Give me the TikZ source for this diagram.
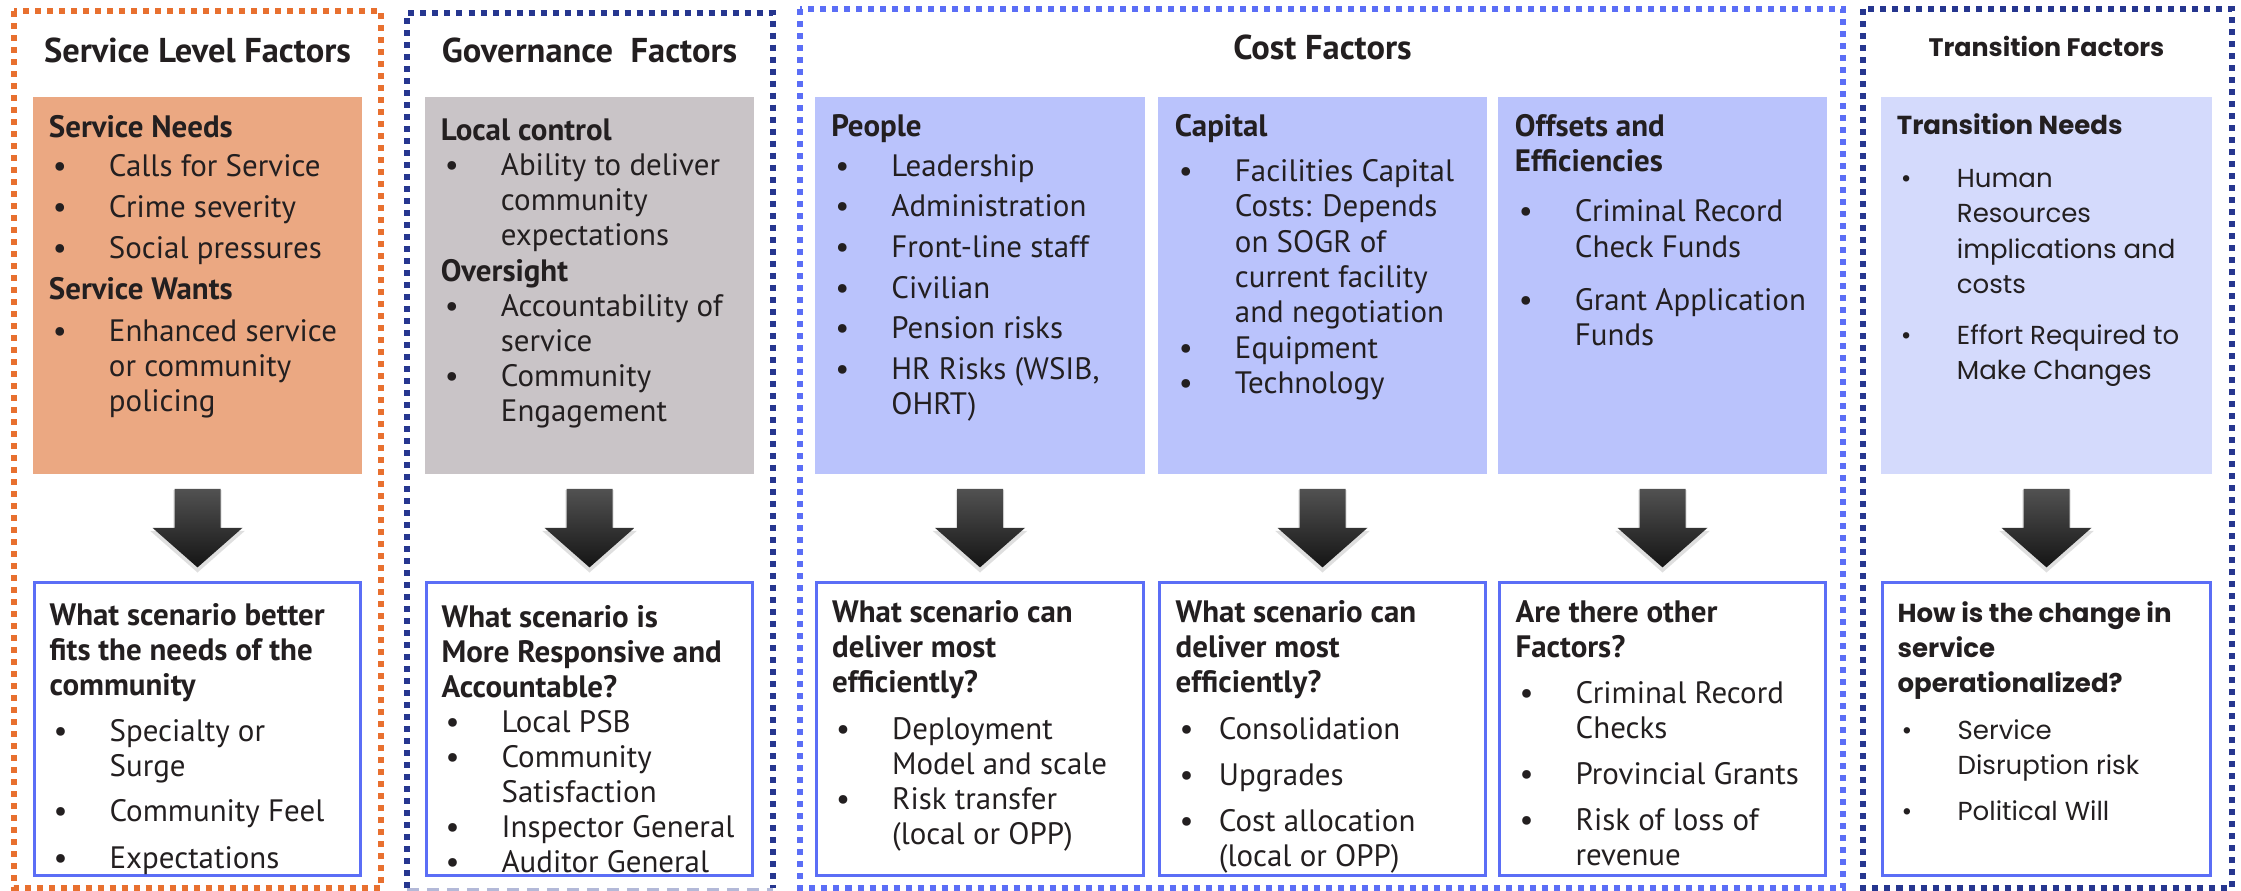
\documentclass[tikz,border=0pt]{standalone}
\usepackage{fontspec}
\setmainfont{PT Sans}
\newfontfamily\trnfont{Poppins}
\usetikzlibrary{calc,positioning,shadows}

\definecolor{ink}{HTML}{231F20}
\definecolor{svcfill}{HTML}{EBA882}
\definecolor{govfill}{HTML}{C9C4C7}
\definecolor{costfill}{HTML}{BAC3FC}
\definecolor{trnfill}{HTML}{D4DAFC}
\definecolor{boxline}{HTML}{5B6EF6}
\definecolor{orangeline}{HTML}{E8702F}
\definecolor{navyline}{HTML}{26368F}

% bullet lines
\newcommand{\itm}[1][0.56cm]{\hspace*{0.04cm}\makebox[#1][l]{\textbullet}}
\newcommand{\cnt}[1][0.6cm]{\hspace*{#1}}
\newcommand{\fst}{\rule{0pt}{0.25cm}}
\newcommand{\bodyfont}{\fontsize{8.8pt}{9.96pt}\selectfont}
\newcommand{\trnbody}{\trnfont\fontsize{7.4pt}{9.96pt}\selectfont}

\tikzset{
  frame/.style={line width=0.06cm, dash pattern=on 0.06cm off 0.06cm},
  topbox/.style={rectangle, inner sep=0, minimum width=3.29cm, minimum height=3.77cm},
  botbox/.style={rectangle, draw=boxline, line width=0.03cm, fill=white, inner sep=0,
    minimum width=3.26cm, minimum height=2.92cm},
  txt/.style={anchor=north west, inner sep=0, align=left, text=ink, font=\bodyfont},
  ttl/.style={anchor=base, inner sep=0, text=ink, font=\fontsize{9.8pt}{11pt}\selectfont\bfseries},
  arrowshade/.style={top color=black!68, bottom color=black!92,
    drop shadow={shadow xshift=0cm, shadow yshift=-0.03cm, shadow scale=1.05, opacity=0.25}},
}

\begin{document}
\begin{tikzpicture}[x=0.01cm, y=-0.01cm]
  \useasboundingbox[fill=white] (0,0) rectangle (2241,890);

  % outer frames
  \draw[frame, orangeline] (14,11) rectangle (381,888);
  \draw[frame, navyline] (407,888) -- (407,13) -- (773,13) -- (773,888);
  \draw[navyline!35, line width=0.03cm, dash pattern=on 0.12cm off 0.08cm] (407,889) -- (773,889);
  \draw[frame, boxline] (800,9) rectangle (1843,888);
  \draw[frame, navyline] (1863,9) rectangle (2232,888);

  % factor boxes
  \node[topbox, fill=svcfill] (svcTop) at (197.5,285.5) {};
  \node[topbox, fill=govfill] (govTop) at (589.5,285.5) {};
  \node[topbox, fill=costfill] (pplTop) at (980,285.5) {};
  \node[topbox, fill=costfill] (capTop) at (1322.5,285.5) {};
  \node[topbox, fill=costfill] (offTop) at (1662.5,285.5) {};
  \node[topbox, fill=trnfill, minimum width=3.31cm] (trnTop) at (2046.5,285.5) {};

  % question boxes
  \foreach \col in {svc,gov,ppl,cap,off}
    \node[botbox, below=1.065cm of \col Top] (\col Bot) {};
  \node[botbox, minimum width=3.28cm, below=1.065cm of trnTop] (trnBot) {};

  % arrows
  \foreach \col in {svc,gov,ppl,cap,off,trn}
    \path[arrowshade] ($(\col Top.south)+(-23,14)$) -- ++(46,0) -- ++(0,39) -- ++(22,0)
      -- ($(\col Bot.north)+(0,-14)$) -- ($(\col Top.south)+(-45,53)$) -- ++(22,0) -- cycle;

  % titles
  \node[ttl] (svcTtl) at ($(svcTop.north)+(0,-34)$) {Service Level Factors};
  \node[ttl] (govTtl) at ($(govTop.north)+(0,-34)$) {Governance\ \ Factors};
  \node[ttl] (costTtl) at ($(capTop.north)+(0,-37)$) {Cost Factors};
  \node[ttl, font=\trnfont\fontsize{7.2pt}{9pt}\selectfont\bfseries] (trnTtl)
    at ($(trnTop.north)+(0,-40)$) {Transition Factors};

  % factor texts
  \node[txt] (svcTopTxt) at ($(svcTop.north west)+(16,16)$) {\fst\textbf{Service Needs}\\[0.04cm]
    \itm Calls for Service\\[0.06cm]
    \itm Crime severity\\[0.05cm]
    \itm Social pressures\\[0.06cm]
    \textbf{Service Wants}\\[0.07cm]
    \itm Enhanced service\\
    \cnt or community\\
    \cnt policing};
  \node[txt] (govTopTxt) at ($(govTop.north west)+(16,19)$) {\fst\textbf{Local control}\\
    \itm Ability to deliver\\
    \cnt community\\
    \cnt expectations\\
    \textbf{Oversight}\\
    \itm Accountability of\\
    \cnt service\\
    \itm Community\\
    \cnt Engagement};
  \node[txt] (pplTopTxt) at ($(pplTop.north west)+(16,15)$) {\fst\textbf{People}\\[0.05cm]
    \itm Leadership\\[0.05cm]
    \itm Administration\\[0.05cm]
    \itm Front-line staff\\[0.06cm]
    \itm Civilian\\[0.05cm]
    \itm Pension risks\\[0.06cm]
    \itm HR Risks (WSIB,\\
    \cnt OHRT)};
  \node[txt] (capTopTxt) at ($(capTop.north west)+(17,15)$) {\fst\textbf{Capital}\\[0.10cm]
    \itm Facilities Capital\\
    \cnt Costs: Depends\\
    \cnt on SOGR of\\
    \cnt current facility\\
    \cnt and negotiation\\[0.01cm]
    \itm Equipment\\
    \itm Technology};
  \node[txt] (offTopTxt) at ($(offTop.north west)+(17,15)$) {\fst\textbf{Offsets and}\\
    \textbf{Efficiencies}\\[0.15cm]
    \itm Criminal Record\\
    \cnt Check Funds\\[0.18cm]
    \itm Grant Application\\
    \cnt Funds};
  \node[txt, font=\trnbody] (trnTopTxt) at ($(trnTop.north west)+(16,13)$) {\fst\textbf{Transition Needs}\\[0.18cm]
    \itm Human\\
    \cnt Resources\\
    \cnt implications and\\
    \cnt costs\\[0.16cm]
    \itm Effort Required to\\
    \cnt Make Changes};

  % question texts
  \node[txt] (svcBotTxt) at ($(svcBot.north west)+(16,18)$) {\fst\textbf{What scenario better}\\
    \textbf{fits the needs of the}\\
    \textbf{community}\\[0.11cm]
    \itm Specialty or\\
    \cnt Surge\\[0.10cm]
    \itm Community Feel\\[0.12cm]
    \itm Expectations};
  \node[txt] (govBotTxt) at ($(govBot.north west)+(16,20)$) {\fst\textbf{What scenario is}\\
    \textbf{More Responsive and}\\
    \textbf{Accountable?}\\
    \itm Local PSB\\
    \itm Community\\
    \cnt Satisfaction\\
    \itm Inspector General\\
    \itm Auditor General};
  \node[txt] (pplBotTxt) at ($(pplBot.north west)+(16,15)$) {\fst\textbf{What scenario can}\\
    \textbf{deliver most}\\
    \textbf{efficiently?}\\[0.12cm]
    \itm Deployment\\
    \cnt Model and scale\\
    \itm Risk transfer\\
    \cnt (local or OPP)};
  \node[txt] (capBotTxt) at ($(capBot.north west)+(17,15)$) {\fst\textbf{What scenario can}\\
    \textbf{deliver most}\\
    \textbf{efficiently?}\\[0.12cm]
    \itm[0.31cm] Consolidation\\[0.11cm]
    \itm[0.31cm] Upgrades\\[0.11cm]
    \itm[0.31cm] Cost allocation\\
    \cnt[0.35cm] (local or OPP)};
  \node[txt] (offBotTxt) at ($(offBot.north west)+(17,15)$) {\fst\textbf{Are there other}\\
    \textbf{Factors?}\\[0.11cm]
    \itm Criminal Record\\
    \cnt Checks\\[0.11cm]
    \itm Provincial Grants\\[0.11cm]
    \itm Risk of loss of\\
    \cnt revenue};
  \node[txt, font=\trnbody] (trnBotTxt) at ($(trnBot.north west)+(16,15)$) {\fst\textbf{How is the change in}\\
    \textbf{service}\\
    \textbf{operationalized?}\\[0.12cm]
    \itm Service\\
    \cnt Disruption risk\\[0.11cm]
    \itm Political Will};
\end{tikzpicture}
\end{document}
